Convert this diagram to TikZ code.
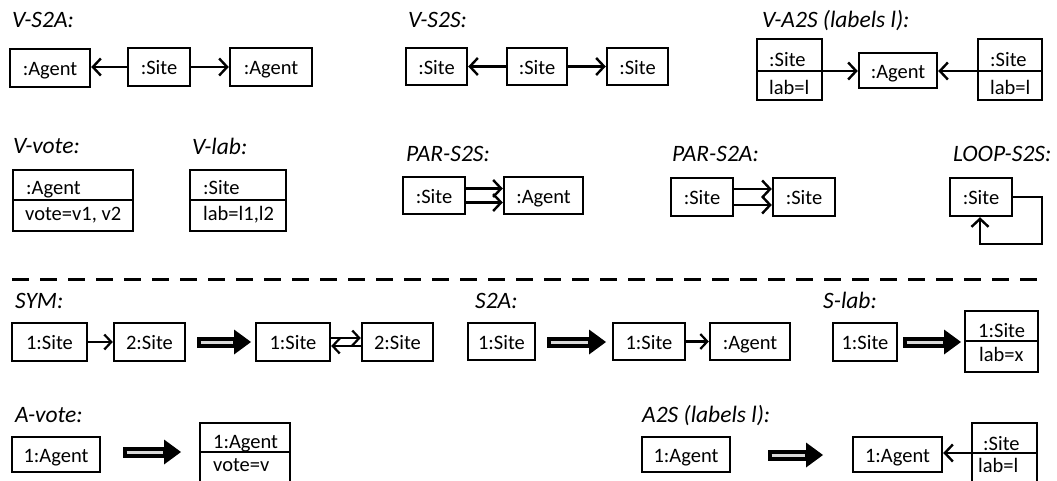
\documentclass[tikz,border=0pt]{standalone}
\usepackage{fontspec}
\setmainfont{Carlito}
\usetikzlibrary{arrows.meta,calc}
\newcommand\bigarr[4]{%
  \coordinate (#1-s) at (#2,#4);
  \coordinate (#1-e) at (#3,#4);
  \draw[bigshaft] (#1-s) -- (#1-e);
  \draw[biginner] ($(#1-s)+(3.5,0)$) -- ($(#1-e)+(-18,0)$);}
\begin{document}
\begin{tikzpicture}[x=1pt,y=-1pt,
  box/.style={draw, line width=2.4pt, inner sep=0pt, font=\fontsize{20.5}{24}\selectfont, text height=15.5pt, text depth=0pt},
  twobox/.style={draw, line width=2.4pt, inner sep=0pt},
  divline/.style={line width=2.2pt},
  ttl/.style={anchor=base west, inner sep=0pt, font=\fontsize{23.5}{27}\selectfont\itshape},
  lbl/.style={anchor=base west, inner sep=0pt, font=\fontsize{20.5}{24}\selectfont},
  arr/.style={line width=2.4pt, -{Straight Barb[length=8pt,width=17pt]}},
  sarr/.style={line width=2.2pt, -{Straight Barb[length=7pt,width=15pt]}},
  bigshaft/.style={line width=11pt, -{Triangle[length=17pt,width=25pt,line width=0pt]}},
  biginner/.style={line width=3pt, gray!30},
  sep/.style={line width=3pt, dash pattern=on 17pt off 11pt}]
\useasboundingbox (0,0) rectangle (1057,481);
\clip (0,0) rectangle (1057,481);

% ---------- Row 1 ----------
\node[ttl] (t1) at (12,28) {V-S2A:};
\node[box, minimum width=80pt, minimum height=38pt] (a1) at (50,68) {:Agent};
\node[box, minimum width=62pt, minimum height=38pt] (s1) at (159,67) {:Site};
\node[box, minimum width=82pt, minimum height=38pt] (a2) at (271,67) {:Agent};
\draw[arr] (s1.west) -- (s1.west -| a1.east);
\draw[arr] (s1.east) -- (s1.east -| a2.west);

\node[ttl] (t2) at (408,28) {V-S2S:};
\node[box, minimum width=61pt, minimum height=37pt] (s2a) at (436.5,66.5) {:Site};
\node[box, minimum width=60pt, minimum height=37pt] (s2b) at (537,66.5) {:Site};
\node[box, minimum width=61pt, minimum height=37pt] (s2c) at (637.5,66.5) {:Site};
\draw[arr] (s2b.west) -- (s2a.east);
\draw[arr] (s2b.east) -- (s2c.west);

\node[ttl] (t3) at (762,28) {V-A2S (labels l):};
\node[twobox, minimum width=65pt, minimum height=61pt] (va) at (789.5,69.5) {};
\coordinate (vad) at (757,71);
\draw[divline] (vad) -- (vad -| va.east);
\node[lbl] (vat) at (769,67) {:Site};
\node[lbl] (vab) at (769,95) {lab=l};
\node[box, minimum width=78pt, minimum height=35pt] (vag) at (898,70.5) {:Agent};
\node[twobox, minimum width=64pt, minimum height=61pt] (vb) at (1010,69.5) {};
\coordinate (vbd) at (1042,71);
\draw[divline] (vbd) -- (vbd -| vb.west);
\node[lbl] (vbt) at (990,67) {:Site};
\node[lbl] (vbb) at (990,95) {lab=l};
\draw[arr] (vad -| va.east) -- (vad -| vag.west);
\draw[arr] (vbd -| vb.west) -- (vbd -| vag.east);

% ---------- Row 2 ----------
\node[ttl] (t4) at (13,154) {V-vote:};
\node[twobox, minimum width=120pt, minimum height=61pt] (vv) at (73,200.5) {};
\coordinate (vvd) at (13,200);
\draw[divline] (vvd) -- (vvd -| vv.east);
\node[lbl] (vvt) at (26,195) {:Agent};
\node[lbl] (vvb) at (25,221) {vote=v1, v2};

\node[ttl] (t5) at (192,155) {V-lab:};
\node[twobox, minimum width=96pt, minimum height=61pt] (vl) at (238,200.5) {};
\coordinate (vld) at (190,200);
\draw[divline] (vld) -- (vld -| vl.east);
\node[lbl] (vlt) at (203,195) {:Site};
\node[lbl] (vlb) at (203,221) {lab=l1,l2};

\node[ttl] (t6) at (406,162) {PAR-S2S:};
\node[box, minimum width=62pt, minimum height=37pt] (ps1) at (434,195.5) {:Site};
\node[box, minimum width=79pt, minimum height=37pt] (pa1) at (543.5,195.5) {:Agent};
\draw[arr] ($(ps1.east)+(0,-7)$) -- ($(ps1.east -| pa1.west)+(0,-7)$);
\draw[arr] ($(ps1.east)+(0,7)$) -- ($(ps1.east -| pa1.west)+(0,7)$);

\node[ttl] (t7) at (672,162) {PAR-S2A:};
\node[box, minimum width=62pt, minimum height=38pt] (ps2) at (702,197) {:Site};
\node[box, minimum width=62pt, minimum height=38pt] (ps3) at (804,197) {:Site};
\draw[arr] ($(ps2.east)+(0,-8)$) -- ($(ps3.west)+(0,-8)$);
\draw[arr] ($(ps2.east)+(0,8)$) -- ($(ps3.west)+(0,8)$);

\node[ttl] (t8) at (953,162) {LOOP-S2S:};
\node[box, minimum width=62pt, minimum height=38pt] (lp) at (981,197) {:Site};
\coordinate (lpc) at (1042,244);
\coordinate (lpx) at (980,244);
\draw[arr] (lp.east) -| (lpc) -- (lpx) -- (lpx |- lp.south);

% ---------- separator ----------
\coordinate (dl1) at (12,279);
\coordinate (dl2) at (1046,279);
\draw[sep] (dl1) -- (dl2);

% ---------- Row 3 ----------
\node[ttl] (t9) at (15,308) {SYM:};
\node[box, minimum width=75pt, minimum height=38pt] (y1) at (49.5,342) {1:Site};
\node[box, minimum width=71pt, minimum height=38pt] (y2) at (149.5,342) {2:Site};
\draw[sarr] (y1.east) -- (y2.west);
\bigarr{ba1}{197}{251}{342}
\node[box, minimum width=74pt, minimum height=38pt] (y3) at (293,342) {1:Site};
\node[box, minimum width=71pt, minimum height=38pt] (y4) at (397.5,342) {2:Site};
\draw[sarr] ($(y3.east)+(0,-4)$) -- ($(y4.west)+(0,-4)$);
\draw[sarr] ($(y4.west)+(0,4)$) -- ($(y3.east)+(0,4)$);

\node[ttl] (t10) at (475,308) {S2A:};
\node[box, minimum width=67pt, minimum height=37pt] (z1) at (501.5,341.5) {1:Site};
\bigarr{ba2}{547}{606}{342}
\node[box, minimum width=72pt, minimum height=37pt] (z2) at (649,341.5) {1:Site};
\node[box, minimum width=80pt, minimum height=37pt] (z3) at (750,341.5) {:Agent};
\draw[sarr] (z2.east) -- (z3.west);

\node[ttl] (t11) at (823,308) {S-lab:};
\node[box, minimum width=64pt, minimum height=38pt] (w1) at (865,342) {1:Site};
\bigarr{ba3}{903}{961}{342}
\node[twobox, minimum width=73pt, minimum height=61pt] (w2) at (1001.5,341.5) {};
\coordinate (w2d) at (965,341);
\draw[divline] (w2d) -- (w2d -| w2.east);
\node[lbl] (w2t) at (978,337) {1:Site};
\node[lbl] (w2b) at (979,361) {lab=x};

% ---------- Row 4 ----------
\node[ttl] (t12) at (15,422) {A-vote:};
\node[box, minimum width=88pt, minimum height=35pt] (v1) at (56,454.5) {1:Agent};
\bigarr{ba4}{123}{181}{452}
\node[twobox, minimum width=90pt, minimum height=80pt] (v2) at (245,463) {};
\coordinate (v2d) at (200,452);
\draw[divline] (v2d) -- (v2d -| v2.east);
\node[lbl] (v2t) at (213,448) {1:Agent};
\node[lbl] (v2b) at (213,471) {vote=v};

\node[ttl] (t13) at (642,422) {A2S (labels l):};
\node[box, minimum width=88pt, minimum height=35pt] (u1) at (686,454.5) {1:Agent};
\bigarr{ba5}{768}{823}{455}
\node[box, minimum width=89pt, minimum height=35pt] (u2) at (897.5,454.5) {1:Agent};
\node[twobox, minimum width=65pt, minimum height=80pt] (u3) at (1004.5,463) {};
\coordinate (u3d) at (972,453);
\draw[divline] (u3d) -- (u3d -| u3.east);
\node[lbl] (u3t) at (983,450) {:Site};
\node[lbl] (u3b) at (978,472) {lab=l};
\draw[arr] (u3d) -- (u3d -| u2.east);
\end{tikzpicture}
\end{document}
